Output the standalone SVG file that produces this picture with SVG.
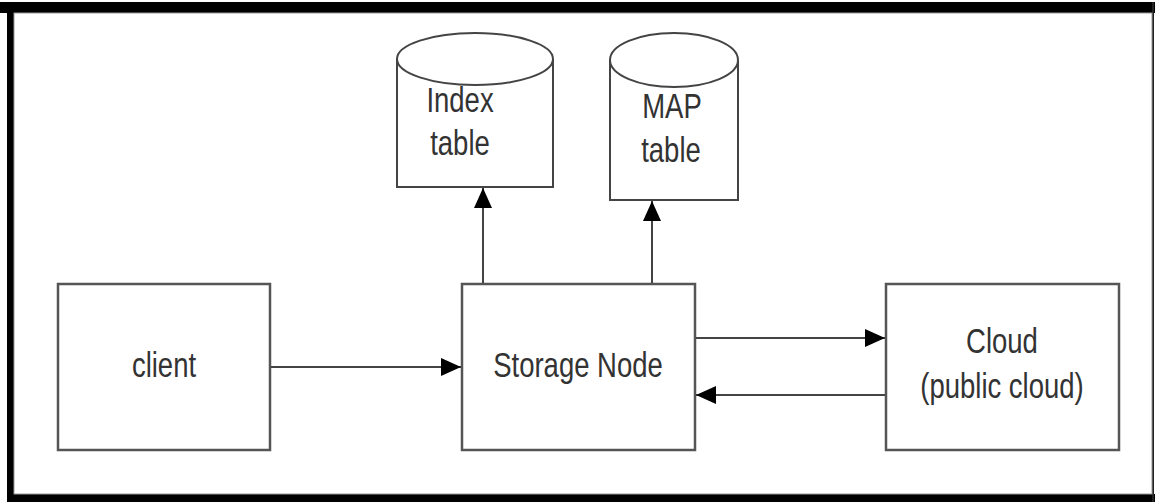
<svg xmlns="http://www.w3.org/2000/svg" width="1155" height="502" viewBox="0 0 1155 502">
<style>
.box{fill:#fff;stroke:#555;stroke-width:2.5}
.cyl{fill:#fff;stroke:#444;stroke-width:2}
.lbl{font-family:"Liberation Sans",Arial,sans-serif;font-size:27.5px;fill:#333;text-anchor:middle}
.conn{stroke:#444;stroke-width:2;fill:none}
</style>
<defs>
<marker id="arr" markerUnits="userSpaceOnUse" markerWidth="21" markerHeight="18" refX="20" refY="9" orient="auto">
<path d="M0,0 L20,9 L0,18 z" fill="#000"/>
</marker>
</defs>
<rect width="1155" height="502" fill="#fff"/>
<g id="frame">
<rect x="0" y="2" width="1155" height="11" fill="#000"/>
<rect x="7" y="2" width="7" height="500" fill="#000"/>
<rect x="7" y="494" width="1148" height="8" fill="#000"/>
<rect x="1152" y="2" width="2" height="500" fill="#222"/>
<rect x="14" y="13" width="1138" height="481" fill="none" stroke="#999" stroke-width="1"/>
</g>
<g id="client">
<rect class="box" x="58" y="284" width="212" height="166"/>
<text class="lbl" transform="translate(164,377) scale(1,1.25)">client</text>
</g>
<g id="storage">
<rect class="box" x="462" y="284" width="233" height="166"/>
<text class="lbl" transform="translate(578,377) scale(1,1.25)">Storage Node</text>
</g>
<g id="cloud">
<rect class="box" x="886" y="284" width="233" height="166"/>
<text class="lbl" transform="translate(1002,353) scale(1,1.25)">Cloud</text>
<text class="lbl" transform="translate(1002,398) scale(1,1.25)">(public cloud)</text>
</g>
<g id="index">
<path class="cyl" d="M397,59 L397,187 L553,187 L553,59"/>
<ellipse class="cyl" cx="475" cy="59" rx="78" ry="26"/>
<text class="lbl" transform="translate(460,112) scale(1,1.25)">Index</text>
<text class="lbl" transform="translate(460,155) scale(1,1.25)">table</text>
</g>
<g id="map">
<path class="cyl" d="M610,60 L610,200 L738,200 L738,60"/>
<ellipse class="cyl" cx="674" cy="60" rx="64" ry="27"/>
<text class="lbl" transform="translate(672,118) scale(1,1.25)">MAP</text>
<text class="lbl" transform="translate(671,162) scale(1,1.25)">table</text>
</g>
<g id="connectors">
<line class="conn" x1="271" y1="367" x2="461" y2="367" marker-end="url(#arr)"/>
<line class="conn" x1="483" y1="283" x2="483" y2="188" marker-end="url(#arr)"/>
<line class="conn" x1="652" y1="283" x2="652" y2="201" marker-end="url(#arr)"/>
<line class="conn" x1="696" y1="338" x2="885" y2="338" marker-end="url(#arr)"/>
<line class="conn" x1="885" y1="395" x2="696" y2="395" marker-end="url(#arr)"/>
</g>
</svg>
